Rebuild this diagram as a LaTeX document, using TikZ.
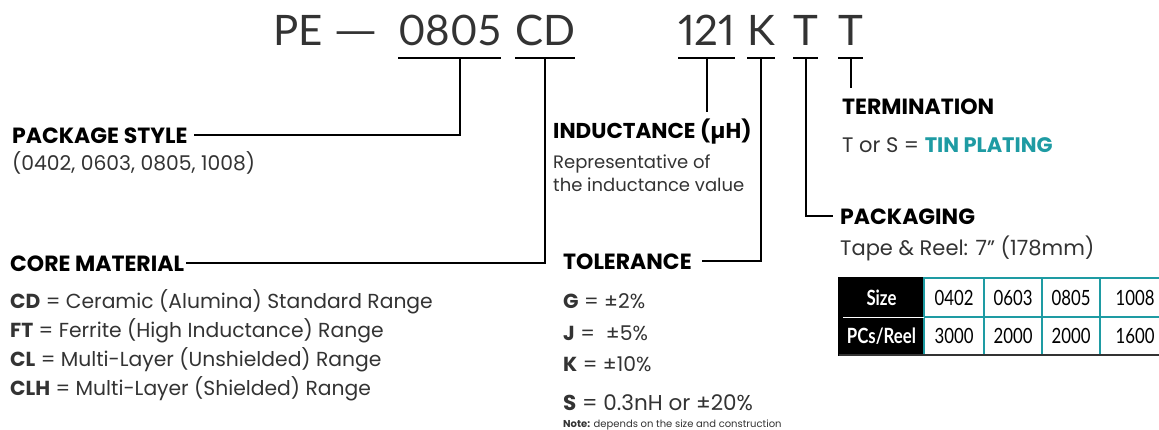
\documentclass[tikz,border=0pt]{standalone}
\usepackage{fontspec}
\setmainfont{Poppins}
\newfontfamily\titlefont{Lato}[Numbers=Proportional]
\newfontfamily\condfont{Lato}[FakeStretch=0.8]
\usepackage{xcolor}
\usetikzlibrary{positioning, calc}
\definecolor{tinteal}{HTML}{1E9BA3}
\definecolor{bodygray}{HTML}{333333}

\begin{document}
\begin{tikzpicture}[
    x=1pt, y=1pt,
    code/.style={
        anchor=base west,
        inner sep=0pt,
        font=\titlefont\fontsize{42}{42}\selectfont,
        text=bodygray
    },
    head/.style={
        anchor=base west,
        inner sep=0pt,
        font=\bfseries\fontsize{22}{22}\selectfont
    },
    body/.style={
        anchor=base west,
        inner sep=0pt,
        font=\fontsize{20.3}{20.3}\selectfont,
        text=bodygray
    },
    link/.style={
        line width=2pt,
        black
    },
    cell/.style={
        draw=tinteal,
        line width=1.2pt,
        inner sep=0pt,
        outer sep=0pt,
        minimum height=39pt,
        font=\condfont\fontsize{21}{21}\selectfont
    },
    dark/.style={
        cell,
        draw=black,
        fill=black,
        text=white,
        minimum width=85pt,
        font=\condfont\bfseries\fontsize{21}{21}\selectfont
    }
]
\useasboundingbox (0,0) rectangle (1159,-429);

% Part number
\node[code] (pe) at (273,-45) {PE};
\node[code] (dash) at (333,-45) {\scalebox{1.35}[1]{—}};
\node[code] (size) at (398,-45) {0805};
\node[code] (core) at (515,-45) {CD};
\node[code] (ind) at (678,-45) {121};
\node[code] (tol) at (747,-45) {K};
\node[code] (pkg) at (793,-45) {T};
\node[code] (term) at (838,-45) {T};

% Underlines
\draw[link] ([yshift=-13pt]size.base west) -- ([yshift=-13pt]size.base east);
\draw[link] ([yshift=-13pt]core.base west) -- ([yshift=-13pt]core.base east);
\draw[link] ([yshift=-13pt]ind.base west) -- ([yshift=-13pt]ind.base east);
\draw[link] ([yshift=-13pt]tol.base west) -- ([yshift=-13pt]tol.base east);
\draw[link] ([yshift=-13pt]pkg.base west) -- ([yshift=-13pt]pkg.base east);
\draw[link] ([yshift=-13pt]term.base west) -- ([yshift=-13pt]term.base east);

% Package style
\node[head] (pkgstyle) at (12,-143) {PACKAGE STYLE};
\node[body] (pkglist) at (12,-170) {(0402, 0603, 0805, 1008)};

% Core material
\node[head] (corehd) at (10,-271) {CORE MATERIAL};
\node[body] (cd) at (10,-308) {\textbf{CD} = Ceramic (Alumina) Standard Range};
\node[body] (ft) at (10,-337) {\textbf{FT} = Ferrite (High Inductance) Range};
\node[body] (cl) at (10,-366) {\textbf{CL} = Multi-Layer (Unshielded) Range};
\node[body] (clh) at (10,-395) {\textbf{CLH} = Multi-Layer (Shielded) Range};

% Inductance
\node[head, font=\bfseries\fontsize{21.5}{21.5}\selectfont] (indhd) at (553,-138) {INDUCTANCE (µH)};
\node[body, font=\fontsize{18}{18}\selectfont] (rep) at (553,-168) {Representative of};
\node[body, font=\fontsize{18}{18}\selectfont] (repval) at (553,-191) {the inductance value};
\coordinate (indend) at ([yshift=-67pt]ind.base);

% Tolerance
\node[head] (tolhd) at (563,-269) {TOLERANCE};
\node[body] (tolg) at (563,-308) {\textbf{G} = ±2\%};
\node[body] (tolj) at (563,-340) {\textbf{J} = \ ±5\%};
\node[body] (tolk) at (563,-371) {\textbf{K} = ±10\%};
\node[body, font=\fontsize{21.5}{21.5}\selectfont] (tols) at (563,-410) {\textbf{S} = 0.3nH or ±20\%};
\node[body, font=\fontsize{10}{10}\selectfont] (note) at (563,-427) {\textbf{Note:} depends on the size and construction};

% Termination
\node[head] (termhd) at (842,-114) {TERMINATION};
\node[body, font=\fontsize{21}{21}\selectfont] (tin) at (842,-152) {T or S = \textcolor{tinteal}{\textbf{TIN PLATING}}};
\coordinate (termend) at ([yshift=-43pt]term.base);

% Packaging
\node[head] (pkghd) at (840,-224) {PACKAGING};
\node[body, font=\fontsize{21}{21}\selectfont] (reel) at (840,-255) {Tape \& Reel: 7” (178mm)};

% Table
\node[dark, anchor=north west] (sizehd) at (839,-278) {Size};
\node[cell, minimum width=60pt, right=0pt of sizehd] (s0402) {0402};
\node[cell, minimum width=58pt, right=0pt of s0402] (s0603) {0603};
\node[cell, minimum width=58pt, right=0pt of s0603] (s0805) {0805};
\node[cell, minimum width=70pt, right=0pt of s0805] (s1008) {1008};
\node[dark, minimum height=38pt, below=0pt of sizehd] (reelhd) {PCs/Reel};
\node[cell, minimum width=60pt, minimum height=38pt, right=0pt of reelhd] (r0402) {3000};
\node[cell, minimum width=58pt, minimum height=38pt, right=0pt of r0402] (r0603) {2000};
\node[cell, minimum width=58pt, minimum height=38pt, right=0pt of r0603] (r0805) {2000};
\node[cell, minimum width=70pt, minimum height=38pt, right=0pt of r0805] (r1008) {1600};
\draw[white, line width=1pt] ([xshift=4pt]sizehd.south west) -- (sizehd.south east);
\draw[black!80, line width=1.5pt] (reelhd.south west) -- (r1008.south east);

% Connectors
\draw[link] ([shift={(10pt,-13pt)}]size.base) |- ([xshift=6pt]pkgstyle.east);
\draw[link] ([yshift=-13pt]core.base) |- ([xshift=2pt]corehd.east);
\draw[link] ([yshift=-13pt]ind.base) -- (indend);
\draw[link] ([yshift=-13pt]tol.base) |- ([xshift=10pt]tolhd.east);
\draw[link] ([yshift=-13pt]pkg.base) |- ([xshift=-7pt]pkghd.west);
\draw[link] ([yshift=-13pt]term.base) -- (termend);

\end{tikzpicture}
\end{document}
